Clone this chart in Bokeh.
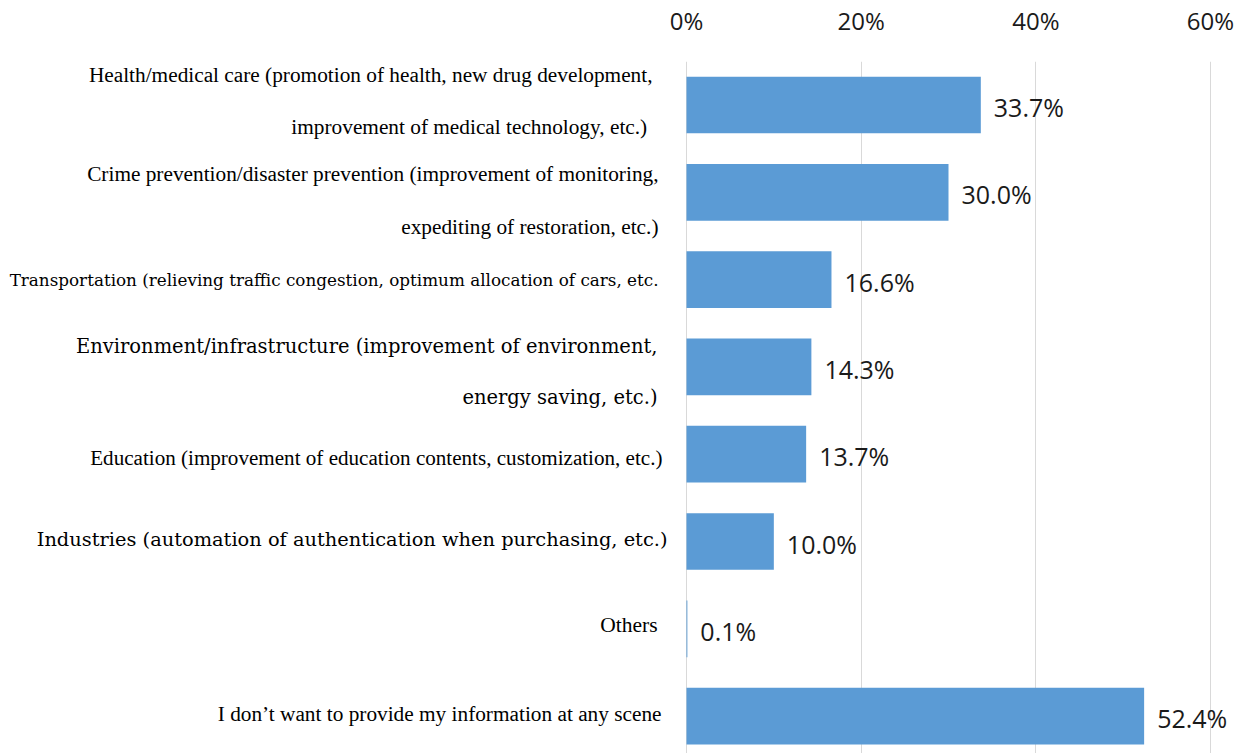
from bokeh.plotting import figure
from bokeh.models import Range1d, FixedTicker, PrintfTickFormatter, ColumnDataSource
from bokeh.core.properties import value
from bokeh.embed import file_html
from bokeh.resources import INLINE

categories = [
    "Health/medical care (promotion of health, new drug development,\nimprovement of medical technology, etc.) ",
    "Crime prevention/disaster prevention (improvement of monitoring,\nexpediting of restoration, etc.)",
    "Transportation (relieving traffic congestion, optimum allocation of cars, etc.",
    "Environment/infrastructure (improvement of environment,\nenergy saving, etc.)",
    "Education (improvement of education contents, customization, etc.)",
    "Industries (automation of authentication when purchasing, etc.)",
    "Others",
    "I don\u2019t want to provide my information at any scene",
]
values = [33.7, 30.0, 16.6, 14.3, 13.7, 10.0, 0.1, 52.4]
ticks = [0, 20, 40, 60]

# styling per label (fonts differ in the original)
label_fonts = ["Liberation Serif", "Liberation Serif", "DejaVu Serif", "DejaVu Serif",
               "Liberation Serif", "DejaVu Serif", "Liberation Serif", "Liberation Serif"]
label_sizes = ["21.3px", "21.3px", "16.8px", "19.5px", "21.1px", "19.4px", "21.5px", "21.3px"]
label_offsets = [-34, -28, -28, -29, -24, -19, -29, -25]
label_yoff = [-4, 8, 0, 5, 4, -2, -4, -2]

W, H = 1241, 753
x0_px = 686.0
px_per_pct = (1210.0 - 686.0) / 60.0
frame_top = 61

idx = list(range(len(categories)))
src = ColumnDataSource(dict(
    y=idx, v=values, cat=categories,
    lab=[f"{v:.1f}%" for v in values],
    font=label_fonts, size=label_sizes, off=label_offsets, yoff=label_yoff,
    zero=[0] * len(values),
))

band = 87.3
E = (frame_top - 104.5) / band
B = E + (H - frame_top) / band

p = figure(width=W, height=H, output_backend="svg", toolbar_location=None,
           x_axis_location="above",
           x_range=Range1d(-x0_px / px_per_pct, (W - x0_px) / px_per_pct),
           y_range=Range1d(B, E),
           min_border_left=0, min_border_right=0, min_border_bottom=0,
           min_border_top=frame_top)
p.outline_line_color = None
p.background_fill_color = "white"
p.border_fill_color = "white"

p.yaxis.visible = False
p.ygrid.visible = False

ax = p.xaxis[0]
ax.ticker = FixedTicker(ticks=ticks)
ax.formatter = PrintfTickFormatter(format="%d%%")
ax.axis_line_color = None
ax.major_tick_line_color = None
ax.major_tick_out = 0
ax.major_tick_in = 0
ax.minor_tick_line_color = None
ax.minor_tick_out = 0
ax.major_label_text_font = "Open Sans"
ax.major_label_text_font_size = "24px"
ax.major_label_text_color = "#1a1a1a"
ax.major_label_text_line_height = 0.6
ax.major_label_standoff = 25

p.xgrid.ticker = FixedTicker(ticks=ticks)
p.xgrid.grid_line_color = "#d9d9d9"
p.xgrid.grid_line_width = 1

p.hbar(y="y", left=0, right="v", height=0.65, source=src,
       fill_color="#5B9BD5", line_color=None)

p.text(x="v", y="y", text="lab", source=src, x_offset=13, y_offset=2,
       text_baseline="middle", text_align="left",
       text_font=value("Open Sans"), text_font_size="25px", text_color="#1a1a1a")

p.text(x="zero", y="y", text="cat", source=src, x_offset="off", y_offset="yoff",
       text_baseline="middle", text_align="right",
       text_font="font", text_font_size="size", text_color="#000000",
       text_line_height=2.2)

open("out.html", "w").write(file_html(p, INLINE))
